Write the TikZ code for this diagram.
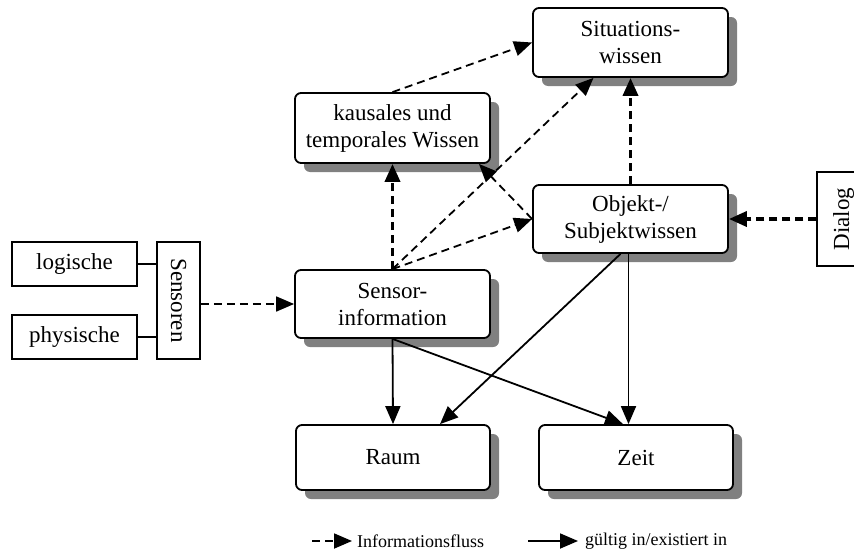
\documentclass[tikz,border=0pt]{standalone}
\usepackage{fontspec}
\usepackage{graphicx}
\setmainfont{Liberation Serif}
\usetikzlibrary{arrows.meta,shadows,calc}

\definecolor{shadowgray}{HTML}{808080}

\tikzset{
  txt/.style={font=\fontsize{23}{27}\selectfont},
  kbox/.style={txt, draw, line width=1.8pt, rounded corners=6pt, fill=white,
    align=center, inner sep=0pt, minimum width=195pt,
    drop shadow={shadow xshift=9pt, shadow yshift=-9pt, fill=shadowgray, opacity=1}},
  sbox/.style={txt, draw, line width=1.5pt, fill=white, inner sep=0pt},
  tip/.style={-{Triangle[length=18pt,width=15pt]}},
  flow/.style={tip, line width=1.8pt, dash pattern=on 8pt off 5pt},
  flowthick/.style={tip, line width=3.6pt, dash pattern=on 8pt off 5pt},
  valid/.style={tip, line width=1.8pt},
  plain/.style={line width=1.5pt},
  legend/.style={font=\fontsize{18}{21}\selectfont, anchor=west, inner sep=0pt},
}

\begin{document}
\begin{tikzpicture}[x=1pt, y=-1pt]
\useasboundingbox (0,0) rectangle (854,554);

% knowledge boxes
\node[kbox, minimum height=69pt] (sit)   at (630.5, 42.5) {Situations-\\wissen};
\node[kbox, minimum height=70pt] (kaus)  at (392.5,128)   {kausales und\\temporales Wissen};
\node[kbox, minimum height=68pt] (obj)   at (630.5,219)   {Objekt-/\\Subjektwissen};
\node[kbox, minimum height=68pt] (sinfo) at (392.5,304)   {Sensor-\\information};
\node[kbox, minimum height=65pt, minimum width=194pt] (raum) at (393,457.5) {Raum};
\node[kbox, minimum height=65pt, minimum width=194pt] (zeit) at (636,457.5) {Zeit};

% sensor sources
\node[sbox, minimum width=125pt, minimum height=44pt] (logisch)  at (74.5,264) {logische};
\node[sbox, minimum width=125pt, minimum height=44pt] (physisch) at (74.5,337) {physische};
\node[sbox, minimum width=43pt, minimum height=117pt] (sensoren) at (178.5,300.5) {\rotatebox{-90}{Sensoren}};
\node[sbox, minimum width=53pt, minimum height=94pt] (dialog) at (843.5,219) {\rotatebox{90}{Dialog}};

% sources to sensors
\draw[plain] (logisch.east) -- (logisch.east -| sensoren.west);
\draw[plain] (physisch.east) -- (physisch.east -| sensoren.west);

% information flow
\draw[flow] (sinfo.west -| sensoren.east) -- (sinfo.west);
\draw[flowthick] (sinfo.north) -- (kaus.south);
\draw[flow] (kaus.north) -- (sit.west);
\draw[flow] (sinfo.north) -- ([xshift=-37pt]sit.south);
\draw[flow] (sinfo.north) -- (obj.west);
\draw[flow] (obj.west) -- ([xshift=-12pt]kaus.south east);
\draw[flowthick] (obj.north) -- (sit.south);
\draw[flowthick] (dialog.west) -- (obj.east);

% valid in / exists in
\draw[valid] (sinfo.south) -- (raum.north);
\draw[valid] (sinfo.south) -- ([xshift=-13pt]zeit.north);
\draw[valid] ([xshift=-10pt]obj.south) -- ([xshift=47pt]raum.north);
\draw[valid] ([xshift=-2pt]obj.south) -- ([xshift=-2pt]obj.south |- zeit.north);

% legend
\coordinate (la) at (312,541);
\coordinate (lb) at (352,541);
\coordinate (lc) at (528,541);
\coordinate (ld) at (578,541);
\draw[flow] (la) -- (lb);
\node[legend] (lflow) at (357,541) {Informationsfluss};
\draw[valid] (lc) -- (ld);
\node[legend] (lvalid) at (585,541) {gültig in/existiert in};
\end{tikzpicture}
\end{document}
